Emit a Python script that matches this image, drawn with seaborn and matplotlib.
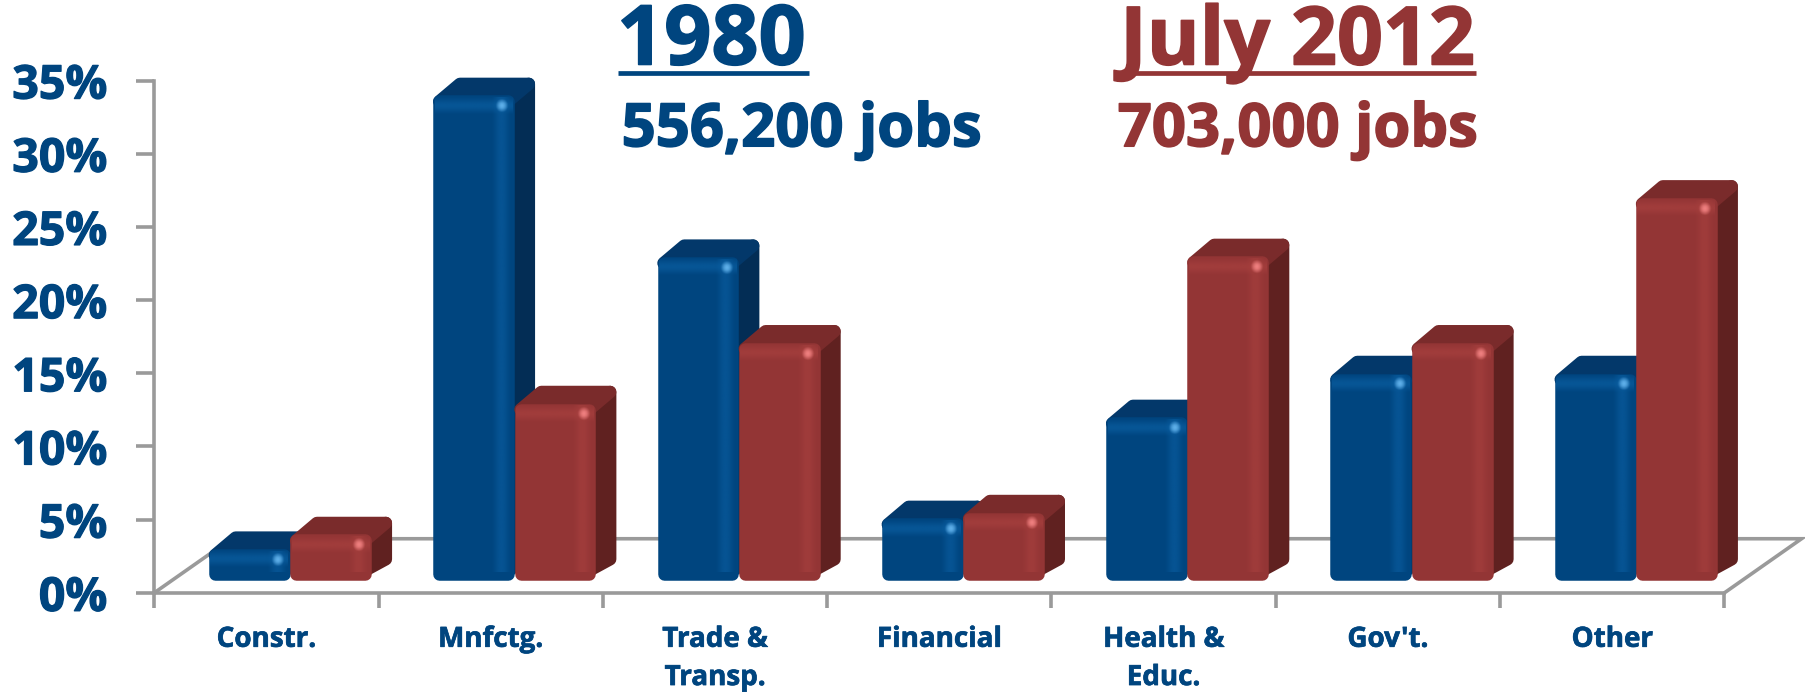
import matplotlib
matplotlib.use("Agg")
import matplotlib.pyplot as plt
import matplotlib.patheffects as pe
from matplotlib.colors import to_rgb
from matplotlib.lines import Line2D
from matplotlib.patches import Polygon
import numpy as np
import pandas as pd
import seaborn as sns

categories = ["Constr.", "Mnfctg.", "Trade &\nTransp.", "Financial", "Health &\nEduc.", "Gov't.", "Other"]
jobs_1980 = [1.9, 32.9, 21.85, 4.0, 10.9, 13.9, 13.9]
jobs_2012 = [2.9, 11.85, 16.0, 4.4, 21.9, 16.0, 25.9]
y_ticks = [0, 5, 10, 15, 20, 25, 30, 35]
series_names = ["1980", "July 2012"]

BLUE, BLUE_TOP, BLUE_SIDE, BLUE_HI = "#00457F", "#03386A", "#032D55", "#0E66AC"
RED, RED_TOP, RED_SIDE, RED_HI = "#933535", "#7A2B2B", "#602120", "#AE4442"
GREY = "#9A9A9A"

W, H = 1805, 692
s = W / 1568
FONT = "Open Sans"

sns.set_theme(style="white")
plt.rcParams["font.family"] = [FONT, "DejaVu Sans"]
plt.rcParams["font.weight"] = "bold"

df = pd.DataFrame({
    "category": categories * 2,
    "share": jobs_1980 + jobs_2012,
    "series": [series_names[0]] * 7 + [series_names[1]] * 7,
})

fig = plt.figure(figsize=(W / 100, H / 100), dpi=100, facecolor="white")


def rect(x0, x1, ytop, ybot):
    """Axes rectangle from coordinates in the shrunk reference layout."""
    return [x0 * s / W, 1 - ybot * s / H, (x1 - x0) * s / W, (ybot - ytop) * s / H]


def heavy(color, w=0.9):
    return [pe.withStroke(linewidth=w, foreground=color)]


UNIT_X = (1498 - 134) / 7   # layout units per category
UNIT_Y = 445 / 35           # layout units per percent

# Frame axes: the printed scale and floor
frame = fig.add_axes(rect(134, 1498, 70, 515))
frame.set_xlim(-0.5, 6.5)
frame.set_ylim(0, 35)
frame.set_facecolor("none")
for side in ["top", "right"]:
    frame.spines[side].set_visible(False)
for side in ["left", "bottom"]:
    frame.spines[side].set_color(GREY)
    frame.spines[side].set_linewidth(2.6)
frame.set_yticks(y_ticks, [f"{v}%" for v in y_ticks])
frame.tick_params(axis="y", length=13, width=2.6, color=GREY, pad=21,
                  labelsize=33.5, labelcolor=BLUE, left=True)
for lab in frame.get_yticklabels():
    lab.set_path_effects(heavy(BLUE))
frame.set_xticks([i - 0.5 for i in range(8)], [""] * 8)
frame.tick_params(axis="x", length=11, width=2.6, color=GREY, bottom=True)
for i, c in enumerate(categories):
    frame.annotate(c, (i, 0), xytext=(0, -23), textcoords="offset points",
                   ha="center", va="top", fontsize=20, color=BLUE,
                   fontweight="bold", linespacing=1.42, annotation_clip=False,
                   path_effects=heavy(BLUE, 0.5))

FLOOR_DX = 67 / UNIT_X
FLOOR_DY = 47 / UNIT_Y
frame.plot([-0.5, -0.5 + FLOOR_DX, 6.5 + FLOOR_DX, 6.5], [0, FLOOR_DY, FLOOR_DY, 0],
           color=GREY, lw=2.6, clip_on=False, solid_joinstyle="miter")

# Bar axes: the same scale, set back by the bars' position on the floor
ax = fig.add_axes(rect(134 + 20.5, 1498 + 20.5, 70 - 14, 515 - 14))
sns.barplot(data=df, x="category", y="share", hue="series", order=categories,
            hue_order=series_names, palette=[BLUE, RED], width=0.725, dodge=True,
            gap=0, saturation=1, legend=False, ax=ax)
ax.axis("off")
ax.patch.set_alpha(0)

DX = 18 / UNIT_X
DY = 15.2 / UNIT_Y
RX = 5.4 / UNIT_X
RY = 5.4 / UNIT_Y
LW = 9
shades = [(BLUE, BLUE_TOP, BLUE_SIDE, BLUE_HI, "#5FB0EA"), (RED, RED_TOP, RED_SIDE, RED_HI, "#F08080")]


def sheen(extent, color, alpha, horizontal, z):
    """Soft band of colour: alpha rises and falls across the band."""
    n = 41
    bump = np.sin(np.linspace(0, np.pi, n)) ** 2 * alpha
    rgba = np.zeros((n, 4))
    rgba[:, :3] = to_rgb(color)
    rgba[:, 3] = bump
    img = rgba[np.newaxis, :, :] if horizontal else rgba[:, np.newaxis, :]
    ax.imshow(img, extent=extent, aspect="auto", zorder=z, interpolation="bilinear", clip_on=False)


def spot(x, y, color, z):
    n = 25
    u = np.linspace(-1, 1, n)
    xx, yy = np.meshgrid(u, u)
    rgba = np.zeros((n, n, 4))
    rgba[..., :3] = to_rgb(color)
    rgba[..., 3] = np.clip(1 - (xx ** 2 + yy ** 2), 0, 1) ** 1.5
    ax.imshow(rgba, extent=(x - 0.03, x + 0.03, y - 0.48, y + 0.48), aspect="auto", zorder=z,
              interpolation="bilinear", clip_on=False)


for k, container in enumerate(ax.containers):
    base, top_c, side_c, hi_c, spot_c = shades[k]
    z = 2 + 3 * k
    for bar in container:
        x0, w, h = bar.get_x(), bar.get_width(), bar.get_height()
        x1 = x0 + w
        # depth faces, stroked so the corners come out rounded
        ax.add_patch(Polygon([(x1 - RX, RY), (x1 + DX - RX, DY), (x1 + DX - RX, h + DY - RY), (x1 - RX, h - RY)],
                             closed=True, fc=side_c, ec=side_c, lw=LW, joinstyle="round", zorder=z, clip_on=False))
        ax.add_patch(Polygon([(x0 + RX, h - RY), (x0 + DX + RX, h + DY - RY),
                              (x1 + DX - RX, h + DY - RY), (x1 - RX, h - RY)],
                             closed=True, fc=top_c, ec=top_c, lw=LW, joinstyle="round", zorder=z, clip_on=False))
        # front face, inset by the stroke half-width
        bar.set_x(x0 + RX)
        bar.set_width(w - 2 * RX)
        bar.set_y(RY * 0.5)
        bar.set_height(h - 1.5 * RY)
        bar.set_edgecolor(base)
        bar.set_linewidth(LW)
        bar.set_joinstyle("round")
        bar.set_zorder(z + 1)
        bar.set_clip_on(False)
        # soft sheen on the front: right strip, top strip and the small highlight
        sheen((x0 + 0.70 * w, x0 + 0.98 * w, 0.3, h - 0.2), hi_c, 0.45, True, z + 1.5)
        sheen((x0 + 0.02 * w, x0 + 0.97 * w, h - 1.4, h), hi_c, 0.5, False, z + 1.5)
        spot(x0 + 0.85 * w, h - 0.75, spot_c, z + 1.6)

ax.set_xlim(-0.5, 6.5)
ax.set_ylim(0, 35)


# Headline text
def put(x, y, text, size, color):
    return fig.text(x * s / W, 1 - y * s / H, text, fontsize=size, color=color,
                    fontweight="bold", ha="left", va="baseline", path_effects=heavy(color, 1.2))


put(536, 56, series_names[0], 59.5, BLUE)
put(973, 56, series_names[1], 58, RED)
put(540, 127, "556,200 jobs", 43, BLUE)
put(971, 127, "703,000 jobs", 43, RED)
for x0, x1, c in [(537, 703, BLUE), (969, 1282, RED)]:
    fig.add_artist(Line2D([x0 * s / W, x1 * s / W], [1 - 63 * s / H] * 2, color=c, lw=3.4,
                          solid_capstyle="butt"))

fig.savefig("out.png", dpi=100, facecolor="white")
